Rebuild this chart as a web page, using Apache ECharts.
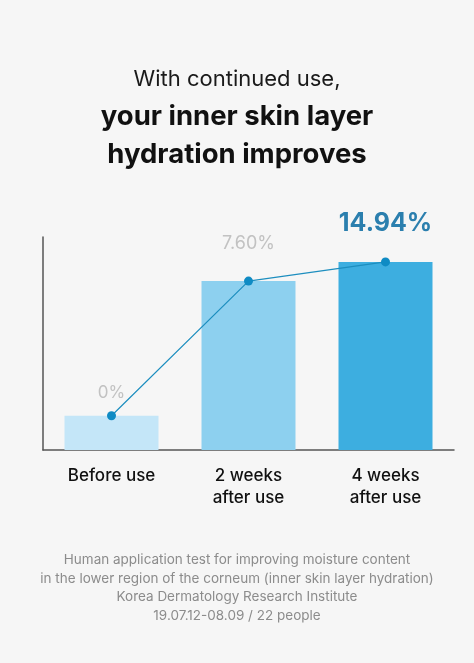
<!DOCTYPE html>
<html>
<head>
<meta charset="utf-8">
<script src="https://cdn.jsdelivr.net/npm/echarts@6/dist/echarts.min.js"></script>
<style>
html,body{margin:0;padding:0;background:#f6f6f6;}
#c{width:474px;height:663px;}
</style>
</head>
<body>
<div id="c"></div>
<script>
var categories = ['Before use', '2 weeks\nafter use', '4 weeks\nafter use'];
var barValues = [16.1, 79.3, 88.3];
var valueLabels = ['0%', '7.60%', '14.94%'];
var titleLines = ['With continued use,', 'your inner skin layer', 'hydration improves'];
var footerLines = [
  'Human application test for improving moisture content',
  'in the lower region of the corneum (inner skin layer hydration)',
  'Korea Dermatology Research Institute',
  '19.07.12-08.09 / 22 people'
];

var barColors = ['#c4e6f8', '#8dd0ef', '#3daee0'];
var font = 'Inter, "Noto Sans", sans-serif';

var chart = echarts.init(document.getElementById('c'), null, {renderer: 'canvas'});
var labelStyles = [
  {color: '#c2c2c2', fontSize: 17, fontWeight: 400, distance: 14},
  {color: '#c2c2c2', fontSize: 18, fontWeight: 400, distance: 28},
  {color: '#2b7fae', fontSize: 25, fontWeight: 700, distance: 26}
];

chart.setOption({
  backgroundColor: '#f6f6f6',
  animation: false,
  title: [
    {text: titleLines[0], left: 'center', top: 63, textStyle: {fontFamily: font, fontSize: 22, fontWeight: 400, color: '#1a1a1a'}},
    {text: titleLines[1] + '\n' + titleLines[2], left: 'center', top: 93, textStyle: {fontFamily: font, fontSize: 27.5, fontWeight: 700, color: '#111', lineHeight: 38}}
  ],
  graphic: footerLines.map(function (t, i) {
    return {
      type: 'text',
      x: 237,
      y: 560 + i * 18.5,
      style: {
        text: t,
        font: '400 13.5px ' + font,
        fill: '#8c8c8c',
        align: 'center',
        verticalAlign: 'middle'
      }
    };
  }),
  grid: {left: 43, right: 20, top: 237, bottom: 213},
  xAxis: {
    type: 'category',
    data: categories,
    axisLine: {lineStyle: {color: '#555', width: 1.5}},
    axisTick: {show: false},
    axisLabel: {fontFamily: font, fontSize: 17, fontWeight: 500, color: '#111', lineHeight: 22, margin: 15}
  },
  yAxis: {
    type: 'value',
    min: 0, max: 100,
    axisLine: {show: true, lineStyle: {color: '#555', width: 1.5}},
    axisTick: {show: false},
    axisLabel: {show: false},
    splitLine: {show: false}
  },
  series: [
    {
      type: 'bar',
      barWidth: 94,
      data: barValues.map(function (v, i) {
        var ls = labelStyles[i];
        return {
          value: v,
          itemStyle: {color: barColors[i]},
          label: {
            show: true, position: 'top', formatter: valueLabels[i],
            color: ls.color, fontSize: ls.fontSize, fontWeight: ls.fontWeight,
            fontFamily: font, distance: ls.distance
          }
        };
      })
    },
    {
      type: 'line',
      data: barValues,
      symbol: 'circle',
      symbolSize: 9,
      lineStyle: {color: '#1d8ebf', width: 1.2},
      itemStyle: {color: '#0f8bc4'},
      z: 5
    }
  ]
});
</script>
</body>
</html>
